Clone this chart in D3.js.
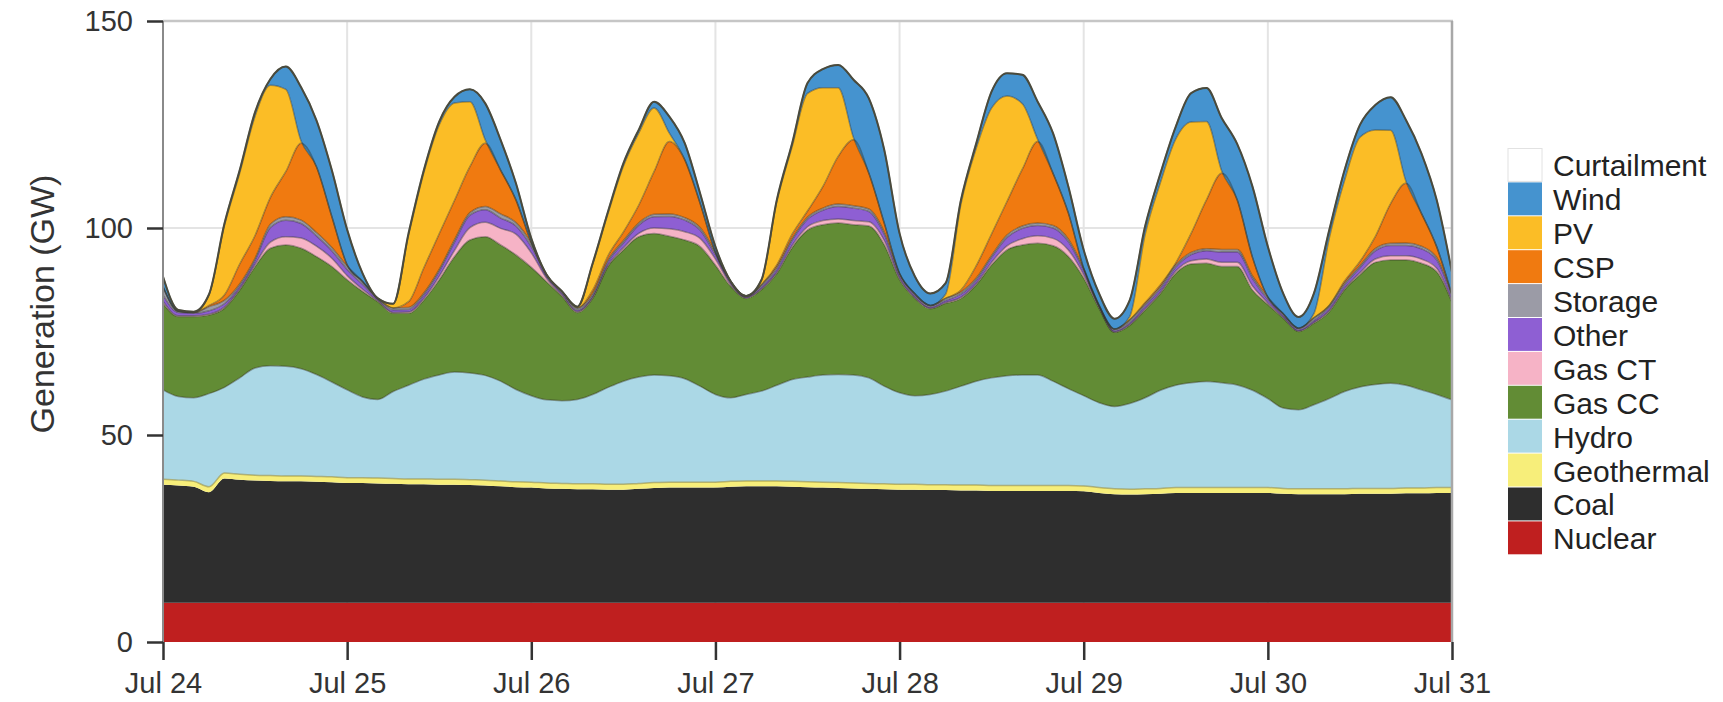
<!DOCTYPE html>
<html><head><meta charset="utf-8">
<script src="https://cdn.jsdelivr.net/npm/d3@7"></script>
<style>body{margin:0;background:#fff;} text{font-family:"Liberation Sans",Arial,Helvetica,sans-serif;}</style>
</head><body><svg id="chart" width="1723" height="702"></svg>
<script>
// ---- data (2-hourly, Jul 24 00:00 .. Jul 31 00:00), GW ----
const dayLabels = ["Jul 24","Jul 25","Jul 26","Jul 27","Jul 28","Jul 29","Jul 30","Jul 31"];
const dayHours = [0,24,48,72,96,120,144,168];
const yTicks = [0,50,100,150];
const hours = d3.range(0, 169, 2);
const seriesNames = ["Nuclear","Coal","Geothermal","Hydro","Gas CC","Gas CT","Other","Storage","CSP","PV","Wind","Curtailment"];

const nuclear = [
9.5,9.5,9.5,9.5,9.5,9.5,9.5,9.5,9.5,9.5,9.5,9.5,
9.5,9.5,9.5,9.5,9.5,9.5,9.5,9.5,9.5,9.5,9.5,9.5,
9.5,9.5,9.5,9.5,9.5,9.5,9.5,9.5,9.5,9.5,9.5,9.5,
9.5,9.5,9.5,9.5,9.5,9.5,9.5,9.5,9.5,9.5,9.5,9.5,
9.5,9.5,9.5,9.5,9.5,9.5,9.5,9.5,9.5,9.5,9.5,9.5,
9.5,9.5,9.5,9.5,9.5,9.5,9.5,9.5,9.5,9.5,9.5,9.5,
9.5,9.5,9.5,9.5,9.5,9.5,9.5,9.5,9.5,9.5,9.5,9.5,
9.5];
const coal = [
28.5,28.3,28.0,26.7,30.0,29.7,29.5,29.4,29.3,29.3,29.2,29.1,
28.9,28.9,28.8,28.7,28.6,28.6,28.5,28.5,28.4,28.3,28.1,27.9,
27.8,27.6,27.5,27.4,27.4,27.3,27.3,27.5,27.7,27.8,27.8,27.8,
27.8,28.0,28.1,28.1,28.1,28.0,27.9,27.8,27.7,27.6,27.5,27.4,
27.3,27.3,27.2,27.2,27.1,27.1,27.0,27.0,27.0,27.0,27.0,27.0,
26.9,26.5,26.2,26.1,26.2,26.3,26.5,26.5,26.5,26.5,26.5,26.5,
26.5,26.3,26.2,26.2,26.2,26.2,26.3,26.3,26.3,26.4,26.4,26.5,
26.5];
const geothermal = [
1.3,1.3,1.3,1.3,1.3,1.3,1.3,1.3,1.3,1.3,1.3,1.3,
1.3,1.3,1.3,1.3,1.3,1.3,1.3,1.3,1.3,1.3,1.3,1.3,
1.3,1.3,1.3,1.3,1.3,1.3,1.3,1.3,1.3,1.3,1.3,1.3,
1.3,1.3,1.3,1.3,1.3,1.3,1.3,1.3,1.3,1.3,1.3,1.3,
1.3,1.3,1.3,1.3,1.3,1.3,1.3,1.3,1.3,1.3,1.3,1.3,
1.3,1.3,1.3,1.3,1.3,1.3,1.3,1.3,1.3,1.3,1.3,1.3,
1.3,1.3,1.3,1.3,1.3,1.3,1.3,1.3,1.3,1.3,1.3,1.3,
1.3];
const hydro = [
21.6,20.2,20.2,22.5,20.7,23.3,25.9,26.5,26.5,25.9,24.6,22.9,
21.2,19.5,19.0,21.0,22.6,24.1,25.2,25.9,25.8,25.3,24.1,22.3,
20.9,20.1,20.0,20.4,21.6,23.4,24.9,25.7,26.0,25.7,25.0,23.2,
21.2,20.2,20.9,21.7,23.1,24.6,25.3,25.9,26.1,26.1,25.5,23.6,
22.1,21.4,21.8,22.6,23.9,25.1,26.0,26.5,26.7,26.7,25.2,23.4,
21.8,20.5,19.9,20.7,22.0,23.7,24.7,25.3,25.6,25.3,24.8,23.5,
21.5,19.4,19.1,20.3,21.8,23.5,24.5,25.1,25.4,24.8,23.7,22.5,
21.2];
const gasCC = [
20.9,19.3,19.6,19.0,19.1,21.2,24.5,28.4,29.3,29.1,28.5,27.9,
26.6,25.5,23.6,18.9,17.4,19.1,23.0,27.9,32.1,33.5,32.9,32.5,
31.0,28.5,25.2,21.0,23.2,29.2,31.7,33.9,34.2,33.7,33.5,33.7,
31.2,26.9,23.2,24.5,27.0,31.9,35.5,36.3,36.6,36.3,36.7,34.2,
27.3,23.5,20.7,21.2,21.2,23.3,27.3,30.4,31.4,31.8,32.7,31.9,
28.4,22.8,17.9,18.9,21.2,23.4,27.1,28.7,28.6,28.1,28.6,24.2,
22.7,21.7,18.9,19.7,21.0,24.6,27.1,29.5,29.8,30.3,30.6,29.7,
23.5];
const gasCT = [
0.5,0.2,0.2,0.2,0.3,0.3,0.5,1.5,2.0,2.5,2.5,2.0,
1.0,0.5,0.2,0.2,0.3,0.4,0.8,1.5,3.0,3.5,4.0,5.0,
3.5,0.8,0.3,0.2,0.2,0.3,0.5,0.8,1.3,1.8,2.0,2.0,
1.5,0.4,0.1,0.2,0.3,0.5,0.8,1.0,1.0,1.0,1.0,1.0,
0.3,0.2,0.1,0.2,0.3,0.3,0.6,1.0,1.5,1.8,1.8,1.6,
0.8,0.2,0.1,0.2,0.3,0.3,0.5,0.8,1.0,1.0,1.0,1.0,
0.4,0.2,0.1,0.2,0.3,0.3,0.5,0.8,1.0,1.0,1.0,0.8,
0.3];
const other = [
1.5,0.8,0.6,0.8,0.8,0.7,1.0,3.5,4.0,3.5,2.5,1.8,
1.5,1.2,0.4,0.6,0.6,0.8,1.2,2.0,3.0,3.0,2.5,2.0,
1.5,0.5,0.5,0.4,0.5,0.8,1.2,2.0,2.7,3.0,2.8,2.0,
1.0,0.5,0.3,0.5,0.8,1.2,1.8,2.5,3.0,3.0,2.5,1.5,
0.7,0.5,0.4,0.5,0.7,0.8,1.2,2.0,2.5,2.5,2.5,2.0,
1.0,0.3,0.4,0.5,0.7,0.8,1.0,1.5,2.0,2.5,2.5,1.8,
0.8,0.5,0.4,0.5,0.7,0.8,1.2,2.0,2.5,2.5,2.5,2.0,
1.0];
const storage = [
2.0,0.3,0.2,1.0,0.8,0.5,0.5,0.8,0.8,0.8,0.8,0.8,
0.8,0.7,0.2,0.5,0.5,0.5,0.5,0.6,0.6,0.8,1.0,0.8,
0.8,0.4,0.4,0.5,0.5,0.5,0.5,0.5,0.6,0.6,0.6,0.6,
0.6,0.3,0.2,0.5,0.5,0.5,0.5,0.5,0.6,0.6,0.6,0.6,
0.5,0.4,0.3,0.5,0.5,0.5,0.5,0.6,0.6,0.6,0.6,0.6,
0.5,0.2,0.3,0.6,0.5,0.5,0.5,0.5,0.5,0.6,0.6,0.6,
0.6,0.4,0.3,0.6,0.5,0.5,0.5,0.5,0.5,0.6,0.6,0.6,
0.5];
const csp = [
0,0,0,0.3,1.3,4.8,5.5,6.5,10.9,18.6,15.9,7.5,
0.3,0,0,0,1.4,6.1,8.6,9.5,11.1,15.3,10.6,5.5,
0.2,0,0,0,0.8,1.0,2.1,4.3,10.3,17.5,14.0,5.9,
0,0,0,0,0.5,1.0,1.5,5.2,11.5,15.9,8.6,2.1,
0,0,0,0,0.5,3.0,5.2,8.1,13.7,19.7,12.6,6.3,
0,0,0,0,0.3,0.5,0.5,4.6,11.8,18.4,12.0,4.5,
0,0,0,0,0,0.5,1.0,2.9,9.6,14.4,8.0,2.6,
0];
const pv = [
0,0,0,2.5,16.7,22.0,28.8,27.1,19.9,0.5,0,0,
0,0,0,1.0,16.0,23.0,26.3,23.5,15.7,0.8,0,0,
0,0,0,0.3,6.2,10.2,15.9,17.4,15.4,2.0,0,0,
0,0,0,1.0,15.2,21.2,28.4,23.9,16.6,0.5,0,0,
0,0,0,1.0,20.8,28.4,30.4,25.5,15.8,0.5,0,0,
0,0,0,0.8,16.4,24.7,29.9,26.9,18.9,0.5,0,0,
0,0,0,1.0,16.2,24.3,30.0,25.8,17.7,0.5,0,0,
0];
const wind = [
2.5,0.3,0.2,0.2,0.5,0.7,1.0,1.5,5.5,13.0,11.2,11.2,
8.5,2.0,0,0,0.5,0.6,0.8,1.5,3.0,8.8,7.3,4.0,
1.0,0,0,0,0.3,0.5,0.7,0.8,1.5,4.0,4.0,2.4,
1.4,0,0,0.2,0.5,0.8,2.5,4.5,5.5,14.0,18.1,17.7,
9.7,4.2,2.9,2.7,1.0,1.2,4.0,5.5,7.0,9.1,9.7,6.4,
4.5,2.9,2.5,4.0,2.0,2.2,3.0,7.0,8.1,12.8,13.5,17.1,
12.2,4.9,2.7,4.9,2.0,2.5,3.0,6.0,8.0,14.8,14.5,11.3,
5.5];
const curtailment = [
0,0,0,0,0,0,0,0,0,0,0,0,
0,0,0,0,0,0,0,0,0,0,0,0,
0,0,0,0,0,0,0,0,0,0,0,0,
0,0,0,0,0,0,0,0,0,0,0,0,
0,0,0,0,0,0,0,0,0,0,0,0,
0,0,0,0,0,0,0,0,0,0,0,0,
0,0,0,0,0,0,0,0,0,0,0,0,
0];

const colors = {
  "Curtailment":"#ffffff","Wind":"#4593cf","PV":"#fbbd26","CSP":"#f07a10",
  "Storage":"#9b9ba6","Other":"#8e5fd3","Gas CT":"#f6b3c6","Gas CC":"#628c35",
  "Hydro":"#abd8e6","Geothermal":"#f7ee7a","Coal":"#2e2e2e","Nuclear":"#bf1f1f"
};

const seriesData = {
  "Nuclear":nuclear,"Coal":coal,"Geothermal":geothermal,"Hydro":hydro,"Gas CC":gasCC,
  "Gas CT":gasCT,"Other":other,"Storage":storage,"CSP":csp,"PV":pv,"Wind":wind,"Curtailment":curtailment
};
const rows = hours.map((h,i)=>{
  const r = {hour:h};
  seriesNames.forEach(k=>{ r[k] = seriesData[k][i]; });
  return r;
});

// ---- chart ----
const svg = d3.select("#chart");
const L=163, R=1452, T=21, B=642;
const x = d3.scaleLinear().domain([0,168]).range([L,R]);
const y = d3.scaleLinear().domain([0,150]).range([B,T]);

// grid
const grid = svg.append("g");
grid.selectAll("line.v").data(dayHours.slice(1,-1)).join("line")
  .attr("x1",d=>x(d)).attr("x2",d=>x(d)).attr("y1",T).attr("y2",B)
  .attr("stroke","#e4e4e4").attr("stroke-width",2);
grid.selectAll("line.h").data([50,100]).join("line")
  .attr("x1",L).attr("x2",R).attr("y1",d=>y(d)).attr("y2",d=>y(d))
  .attr("stroke","#e4e4e4").attr("stroke-width",2);

// stacked areas
const stacked = d3.stack().keys(seriesNames)(rows);
const area = d3.area().x(d=>x(d.data.hour)).y0(d=>y(d[0])).y1(d=>y(d[1])).curve(d3.curveMonotoneX);
svg.append("g").selectAll("path").data(stacked).join("path")
  .attr("d",area).attr("fill",d=>colors[d.key]);

const topLine = d3.line().x(d=>x(d.data.hour)).y(d=>y(d[1])).curve(d3.curveMonotoneX);
svg.append("g").selectAll("path").data(stacked.filter((s,i)=>i>=2)).join("path")
  .attr("d",topLine).attr("fill","none")
  .attr("stroke", d=> d.key==="Geothermal" ? "rgba(150,140,60,0.6)" :
        d.key==="Curtailment" ? "#4a4a3c" : "rgba(45,45,35,0.4)")
  .attr("stroke-width", d=> d.key==="Curtailment" ? 2 : 1.5).attr("stroke-linejoin","round");

// frame (top & right)
svg.append("line").attr("x1",L).attr("x2",R+1).attr("y1",T).attr("y2",T)
  .attr("stroke","#c6c6c6").attr("stroke-width",2.5);
svg.append("line").attr("x1",R).attr("x2",R).attr("y1",T).attr("y2",B)
  .attr("stroke","#a8a8a8").attr("stroke-width",2.5);

// y axis
const yAxis = svg.append("g").attr("transform",`translate(${L},0)`)
  .call(d3.axisLeft(y).tickValues(yTicks).tickSize(16).tickPadding(14).tickFormat(d3.format("d")));
yAxis.select(".domain").attr("stroke","#8a8a8a").attr("stroke-width",2).attr("d",`M0,${T}V${B}`);
yAxis.selectAll(".tick line").attr("stroke","#333").attr("stroke-width",2.5);
yAxis.selectAll(".tick text").attr("font-size",29).attr("fill","#333")
  .style("font-family","'Liberation Sans',Arial,sans-serif");

// x axis
const xAxis = svg.append("g").attr("transform",`translate(0,${B})`)
  .call(d3.axisBottom(x).tickValues(dayHours).tickSize(18).tickFormat((d,i)=>dayLabels[i]));
xAxis.select(".domain").remove();
xAxis.selectAll(".tick line").attr("stroke","#333").attr("stroke-width",2.5);
xAxis.selectAll(".tick text").attr("font-size",29).attr("fill","#333").attr("y",30)
  .style("font-family","'Liberation Sans',Arial,sans-serif");

// y title
svg.append("text").attr("transform","translate(54,304) rotate(-90)")
  .attr("text-anchor","middle").attr("font-size",34).attr("fill","#333")
  .text("Generation (GW)");

// legend
const legendNames = seriesNames.slice().reverse();
const rowH = 33.9, lx = 1508, ly = 148;
const lg = svg.append("g");
lg.selectAll("rect").data(legendNames).join("rect")
  .attr("x",lx).attr("y",(d,i)=>ly+i*rowH+0.5).attr("width",34).attr("height",rowH-1)
  .attr("fill",d=>colors[d])
  .attr("stroke",d=>d==="Curtailment"?"#e2e2e2":"none");
lg.selectAll("text").data(legendNames).join("text")
  .attr("x",1553).attr("y",(d,i)=>ly+i*rowH+rowH/2+1)
  .attr("dominant-baseline","central").attr("font-size",30).attr("fill","#222")
  .text(d=>d);
</script>
</body></html>
